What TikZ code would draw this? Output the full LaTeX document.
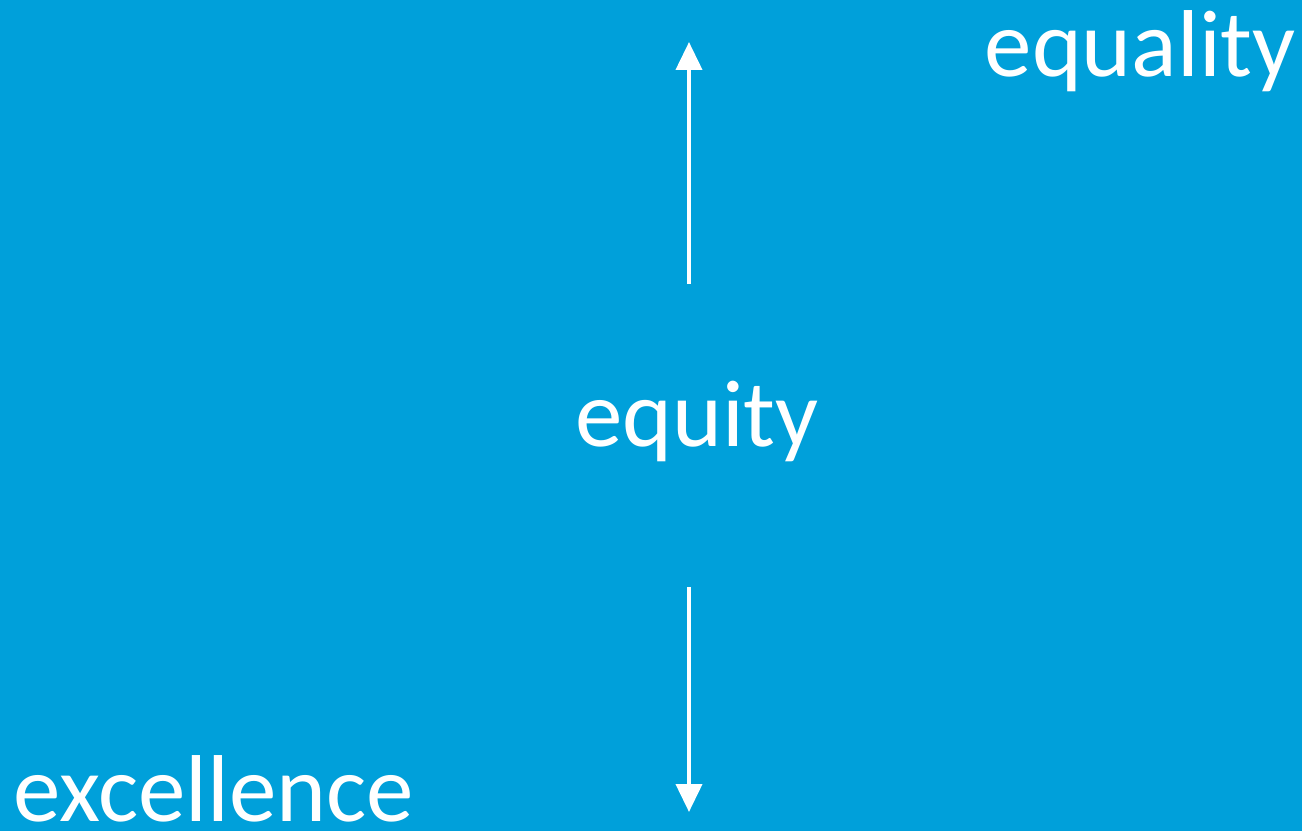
\documentclass[tikz,border=0pt]{standalone}
\usepackage{fontspec}
\setmainfont{Carlito}
\usetikzlibrary{arrows.meta}
\definecolor{bgblue}{HTML}{00A0DA}
\tikzset{
  lbl/.style={text=white, inner sep=0pt, font=\fontsize{95}{100}\selectfont},
  arr/.style={draw=white, line width=4pt, -{Triangle[width=26pt,length=28pt]}}
}
\begin{document}
\begin{tikzpicture}[x=1pt,y=1pt]
  \fill[bgblue] (0,0) rectangle (1302,831);
  \useasboundingbox (0,0) rectangle (1302,831);
  \node[lbl, anchor=base] (equity) at (697,384) {equity};
  \node[lbl, anchor=base east] (equality) at (1296,754) {equality};
  \node[lbl, anchor=base west] (excellence) at (13,10) {excellence};
  \coordinate (upstart) at (689,547);
  \coordinate (upend) at (689,789);
  \coordinate (downstart) at (689,244);
  \coordinate (downend) at (689,19);
  \draw[arr] (upstart) -- (upend);
  \draw[arr] (downstart) -- (downend);
\end{tikzpicture}
\end{document}
